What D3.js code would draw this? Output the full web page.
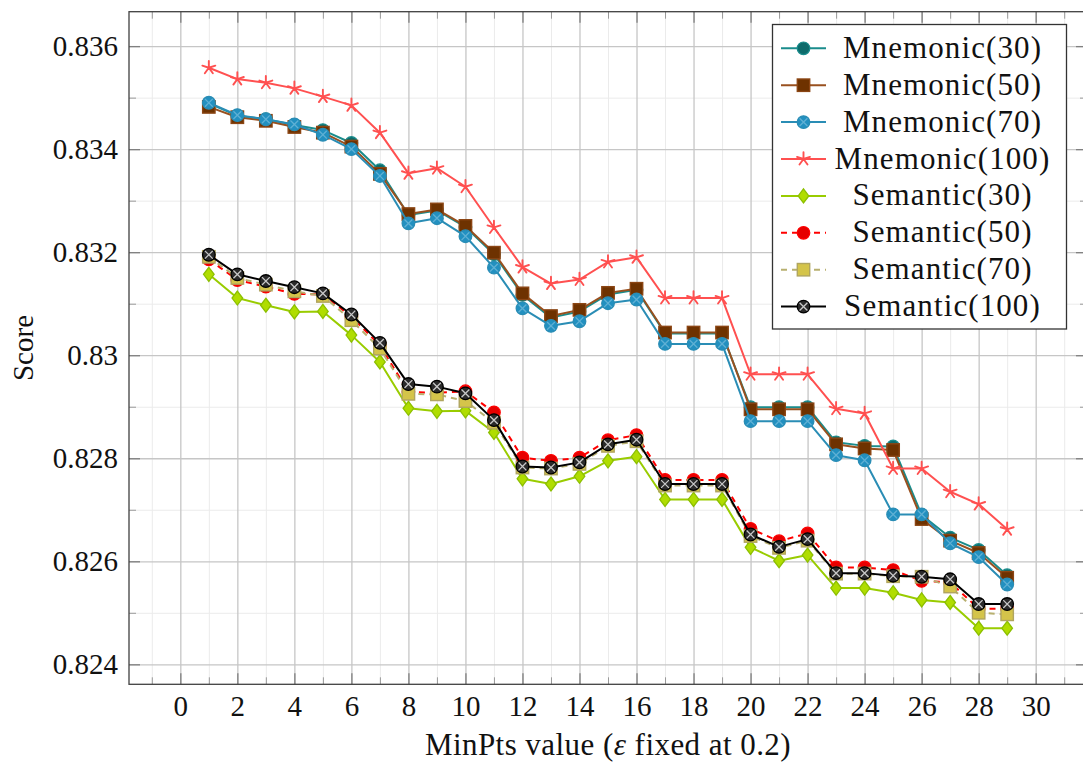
<!DOCTYPE html>
<html>
<head>
<meta charset="utf-8">
<script src="https://cdn.jsdelivr.net/npm/d3@7"></script>
<style>
  html, body { margin: 0; padding: 0; background: #fff; }
  svg { display: block; font-family: "Liberation Serif", "Times New Roman", serif; }
  svg text { font-family: "Liberation Serif", "Times New Roman", serif; }
</style>
</head>
<body>
<svg id="chart" width="1083" height="762"></svg>
<script>
// MinPts values on the x axis (epsilon fixed at 0.2)
const minPts = [1, 2, 3, 4, 5, 6, 7, 8, 9, 10, 11, 12, 13, 14, 15, 16, 17, 18, 19, 20, 21, 22, 23, 24, 25, 26, 27, 28, 29];

// Scores per configuration
const mnemonic30 = [0.83489, 0.83465, 0.83458, 0.83447, 0.83437, 0.83412, 0.83359, 0.83272, 0.83281, 0.83249,
  0.83196, 0.83117, 0.83073, 0.83085, 0.83118, 0.83127, 0.83042, 0.83042, 0.83042, 0.82899,
  0.82899, 0.82899, 0.82831, 0.82824, 0.82823, 0.82690, 0.82646, 0.82622, 0.82573];
const mnemonic50 = [0.83482, 0.83462, 0.83455, 0.83443, 0.83432, 0.83405, 0.83352, 0.83274, 0.83283, 0.83251,
  0.83199, 0.83120, 0.83076, 0.83088, 0.83121, 0.83129, 0.83044, 0.83044, 0.83044, 0.82895,
  0.82895, 0.82895, 0.82827, 0.82819, 0.82816, 0.82682, 0.82640, 0.82616, 0.82568];
const mnemonic70 = [0.83490, 0.83466, 0.83458, 0.83448, 0.83428, 0.83400, 0.83348, 0.83256, 0.83266, 0.83231,
  0.83170, 0.83091, 0.83057, 0.83066, 0.83101, 0.83108, 0.83022, 0.83022, 0.83022, 0.82872,
  0.82872, 0.82872, 0.82806, 0.82796, 0.82691, 0.82691, 0.82635, 0.82608, 0.82555];
const mnemonic100 = [0.83558, 0.83536, 0.83529, 0.83518, 0.83502, 0.83485, 0.83432, 0.83353, 0.83363, 0.83327,
  0.83248, 0.83171, 0.83139, 0.83147, 0.83181, 0.83190, 0.83111, 0.83111, 0.83111, 0.82963,
  0.82963, 0.82963, 0.82896, 0.82887, 0.82780, 0.82780, 0.82735, 0.82711, 0.82662];
const semantic30 = [0.83157, 0.83111, 0.83097, 0.83084, 0.83085, 0.83039, 0.82987, 0.82897, 0.82891, 0.82892,
  0.82850, 0.82760, 0.82750, 0.82765, 0.82795, 0.82803, 0.82720, 0.82720, 0.82720, 0.82627,
  0.82601, 0.82612, 0.82548, 0.82548, 0.82539, 0.82525, 0.82520, 0.82470, 0.82470];
const semantic50 = [0.83186, 0.83146, 0.83133, 0.83119, 0.83118, 0.83075, 0.83019, 0.82929, 0.82927, 0.82930,
  0.82889, 0.82801, 0.82795, 0.82801, 0.82835, 0.82845, 0.82758, 0.82758, 0.82758, 0.82663,
  0.82639, 0.82654, 0.82588, 0.82588, 0.82583, 0.82562, 0.82559, 0.82508, 0.82508];
const semantic70 = [0.83191, 0.83150, 0.83137, 0.83124, 0.83115, 0.83068, 0.83013, 0.82925, 0.82924, 0.82911,
  0.82869, 0.82782, 0.82780, 0.82789, 0.82824, 0.82833, 0.82747, 0.82747, 0.82747, 0.82649,
  0.82626, 0.82640, 0.82576, 0.82576, 0.82571, 0.82570, 0.82551, 0.82500, 0.82497];
const semantic100 = [0.83195, 0.83157, 0.83144, 0.83132, 0.83120, 0.83079, 0.83024, 0.82944, 0.82939, 0.82926,
  0.82874, 0.82784, 0.82782, 0.82792, 0.82827, 0.82836, 0.82750, 0.82750, 0.82750, 0.82652,
  0.82628, 0.82643, 0.82577, 0.82577, 0.82572, 0.82570, 0.82565, 0.82517, 0.82517];

const seriesNames = ["Mnemonic(30)", "Mnemonic(50)", "Mnemonic(70)", "Mnemonic(100)",
  "Semantic(30)", "Semantic(50)", "Semantic(70)", "Semantic(100)"];
const seriesValues = [mnemonic30, mnemonic50, mnemonic70, mnemonic100,
  semantic30, semantic50, semantic70, semantic100];

// Axis ticks
const xTickValues = [0, 2, 4, 6, 8, 10, 12, 14, 16, 18, 20, 22, 24, 26, 28, 30];
const xMinorTicks = [-1, 1, 3, 5, 7, 9, 11, 13, 15, 17, 19, 21, 23, 25, 27, 29, 31];
const yTickValues = [0.824, 0.826, 0.828, 0.830, 0.832, 0.834, 0.836];
const yMinorTicks = [0.825, 0.827, 0.829, 0.831, 0.833, 0.835];

const xLabelParts = ["MinPts value (", "ε", " fixed at 0.2)"];
const yLabel = "Score";

// Per-series drawing styles
const styles = [
  { line: "#1a8c8c", fill: "#0d6b6b", stroke: "#1a8c8c", marker: "circle", dash: null },
  { line: "#99501f", fill: "#6e3200", stroke: "#8b4513", marker: "square", dash: null },
  { line: "#2a8db5", fill: "#2290c0", stroke: "#2a8db5", marker: "otimes", cross: "#5fb0d4", dash: null },
  { line: "#ff5050", fill: "none", stroke: "#ff5050", marker: "star", dash: null },
  { line: "#99cc00", fill: "#b0dd00", stroke: "#8cbf00", marker: "diamond", dash: null },
  { line: "#ff0000", fill: "#e60000", stroke: "#ff0000", marker: "circle", dash: "6,5" },
  { line: "#b8b070", fill: "#d4c44a", stroke: "#b0a560", marker: "square", dash: "6,5" },
  { line: "#000000", fill: "#2a2a2a", stroke: "#000000", marker: "otimes", cross: "#c8c8c8", dash: null }
];

const FONT = '"Liberation Serif", "Times New Roman", serif';
const svg = d3.select("#chart");
svg.append("rect").attr("width", 1083).attr("height", 762).attr("fill", "#fff");

const frame = { left: 129, top: 11.7, right: 1087, bottom: 684.3 };

// Limits enlarged by 10% of the data range on each side
const allValues = seriesValues.flat();
const [yLo, yHi] = d3.extent(allValues);
const yPad = (yHi - yLo) * 0.1;
const [xLo, xHi] = d3.extent(minPts);
const xPad = (xHi - xLo) * 0.1;

const x = d3.scaleLinear().domain([xLo - xPad, xHi + xPad]).range([frame.left, frame.right]);
const y = d3.scaleLinear().domain([yLo - yPad, yHi + yPad]).range([frame.bottom, frame.top]);

const plotW = frame.right - frame.left;
const plotH = frame.bottom - frame.top;

// Grid: minor first, then major
const grid = svg.append("g");
const gridAxis = (axis, color, width, transform) => {
  const g = grid.append("g").attr("transform", transform).call(axis);
  g.select(".domain").remove();
  g.selectAll("text").remove();
  g.selectAll("line").attr("stroke", color).attr("stroke-width", width);
};
gridAxis(d3.axisBottom(x).tickValues(xMinorTicks).tickSize(-plotH), "#ebebeb", 1, `translate(0,${frame.bottom})`);
gridAxis(d3.axisLeft(y).tickValues(yMinorTicks).tickSize(-plotW), "#ebebeb", 1, `translate(${frame.left},0)`);
gridAxis(d3.axisBottom(x).tickValues(xTickValues).tickSize(-plotH), "#c6c6c6", 1.3, `translate(0,${frame.bottom})`);
gridAxis(d3.axisLeft(y).tickValues(yTickValues).tickSize(-plotW), "#c6c6c6", 1.3, `translate(${frame.left},0)`);

// Inward tick marks on all four sides
const tickG = svg.append("g");
const tickAxis = (axis, color, width, transform) => {
  const g = tickG.append("g").attr("transform", transform).call(axis);
  g.select(".domain").remove();
  g.selectAll("text").remove();
  g.selectAll("line").attr("stroke", color).attr("stroke-width", width);
};
tickAxis(d3.axisBottom(x).tickValues(xMinorTicks).tickSize(-7), "#999", 1, `translate(0,${frame.bottom})`);
tickAxis(d3.axisTop(x).tickValues(xMinorTicks).tickSize(-7), "#999", 1, `translate(0,${frame.top})`);
tickAxis(d3.axisLeft(y).tickValues(yMinorTicks).tickSize(-7), "#999", 1, `translate(${frame.left},0)`);
tickAxis(d3.axisRight(y).tickValues(yMinorTicks).tickSize(-7), "#999", 1, `translate(${frame.right},0)`);
tickAxis(d3.axisBottom(x).tickValues(xTickValues).tickSize(-11), "#808080", 1.3, `translate(0,${frame.bottom})`);
tickAxis(d3.axisTop(x).tickValues(xTickValues).tickSize(-11), "#808080", 1.3, `translate(0,${frame.top})`);
tickAxis(d3.axisLeft(y).tickValues(yTickValues).tickSize(-11), "#808080", 1.3, `translate(${frame.left},0)`);
tickAxis(d3.axisRight(y).tickValues(yTickValues).tickSize(-11), "#808080", 1.3, `translate(${frame.right},0)`);

// Tick labels
const fontSize = 29;
const xAxisLabels = svg.append("g")
  .attr("transform", `translate(0,${frame.bottom})`)
  .call(d3.axisBottom(x).tickValues(xTickValues).tickSize(0).tickPadding(11).tickFormat(d3.format("d")));
xAxisLabels.select(".domain").remove();
xAxisLabels.attr("font-family", null);
xAxisLabels.selectAll("text").attr("fill", "#111")
  .style("font-size", fontSize + "px").style("font-family", FONT);

const yAxisLabels = svg.append("g")
  .attr("transform", `translate(${frame.left},0)`)
  .call(d3.axisLeft(y).tickValues(yTickValues).tickSize(0).tickPadding(11).tickFormat(d3.format(".3~f")));
yAxisLabels.select(".domain").remove();
yAxisLabels.attr("font-family", null);
yAxisLabels.selectAll("text").attr("fill", "#111")
  .style("font-size", fontSize + "px").style("font-family", FONT);

// Axis frame
svg.append("rect")
  .attr("x", frame.left).attr("y", frame.top)
  .attr("width", plotW).attr("height", plotH)
  .attr("fill", "none").attr("stroke", "#404040").attr("stroke-width", 1.3);

// Axis titles
const xt = svg.append("text")
  .attr("x", (frame.left + frame.right) / 2).attr("y", 755)
  .attr("text-anchor", "middle").attr("fill", "#111")
  .style("font-size", "31px").style("font-family", FONT).style("letter-spacing", "0.45px");
xt.append("tspan").text(xLabelParts[0]);
xt.append("tspan").attr("font-style", "italic").text(xLabelParts[1]);
xt.append("tspan").text(xLabelParts[2]);

svg.append("text")
  .attr("transform", `translate(33,${(frame.top + frame.bottom) / 2}) rotate(-90)`)
  .attr("text-anchor", "middle").attr("fill", "#111")
  .style("font-size", fontSize + "px").style("font-family", FONT)
  .text(yLabel);

// Marker drawing
function drawMarker(g, st) {
  const r = 6.3;
  if (st.marker === "circle") {
    g.append("circle").attr("r", r).attr("fill", st.fill).attr("stroke", st.stroke).attr("stroke-width", 1.2);
  } else if (st.marker === "square") {
    g.append("rect").attr("x", -6.2).attr("y", -6.2).attr("width", 12.4).attr("height", 12.4)
      .attr("fill", st.fill).attr("stroke", st.stroke).attr("stroke-width", 1.4);
  } else if (st.marker === "diamond") {
    g.append("path").attr("d", "M0,-7L5.3,0L0,7L-5.3,0Z")
      .attr("fill", st.fill).attr("stroke", st.stroke).attr("stroke-width", 1.3);
  } else if (st.marker === "otimes") {
    g.append("circle").attr("r", r).attr("fill", st.fill).attr("stroke", st.stroke).attr("stroke-width", 1.3);
    const k = r * 0.62;
    g.append("path").attr("d", `M${-k},${-k}L${k},${k}M${-k},${k}L${k},${-k}`)
      .attr("stroke", st.cross).attr("stroke-width", 1.3).attr("fill", "none");
  } else if (st.marker === "star") {
    const arms = d3.range(5).map(i => {
      const a = -Math.PI / 2 + i * 2 * Math.PI / 5;
      return `M0,0L${(6.8 * Math.cos(a)).toFixed(2)},${(6.8 * Math.sin(a)).toFixed(2)}`;
    }).join("");
    g.append("path").attr("d", arms).attr("stroke", st.stroke).attr("stroke-width", 1.9)
      .attr("fill", "none").attr("stroke-linecap", "round");
  }
}

// Series: line then markers, in legend order
const line = d3.line().x(d => x(d[0])).y(d => y(d[1]));
seriesValues.forEach((vals, i) => {
  const st = styles[i];
  const pts = minPts.map((m, j) => [m, vals[j]]);
  const sg = svg.append("g").attr("class", "series");
  sg.append("path").attr("d", line(pts))
    .attr("fill", "none").attr("stroke", st.line).attr("stroke-width", 2)
    .attr("stroke-linejoin", "round")
    .attr("stroke-dasharray", st.dash);
  sg.selectAll("g.mk").data(pts).join("g").attr("class", "mk")
    .attr("transform", d => `translate(${x(d[0])},${y(d[1])})`)
    .each(function () { drawMarker(d3.select(this), st); });
});

// Legend
const lg = svg.append("g");
lg.append("rect").attr("x", 772.5).attr("y", 24.5).attr("width", 294).attr("height", 304.5)
  .attr("fill", "#fff").attr("stroke", "#333").attr("stroke-width", 1.3);
seriesNames.forEach((name, i) => {
  const st = styles[i];
  const cy = 48.3 + i * 36.9;
  const row = lg.append("g");
  row.append("line").attr("x1", 781).attr("x2", 826).attr("y1", cy).attr("y2", cy)
    .attr("stroke", st.line).attr("stroke-width", 2).attr("stroke-dasharray", st.dash);
  drawMarker(row.append("g").attr("transform", `translate(803.5,${cy})`), st);
  row.append("text").attr("x", 942.5).attr("y", cy + 9.5)
    .attr("text-anchor", "middle").attr("fill", "#111")
    .style("font-size", "31px").style("font-family", FONT).style("letter-spacing", "1.1px")
    .text(name);
});
</script>
</body>
</html>
